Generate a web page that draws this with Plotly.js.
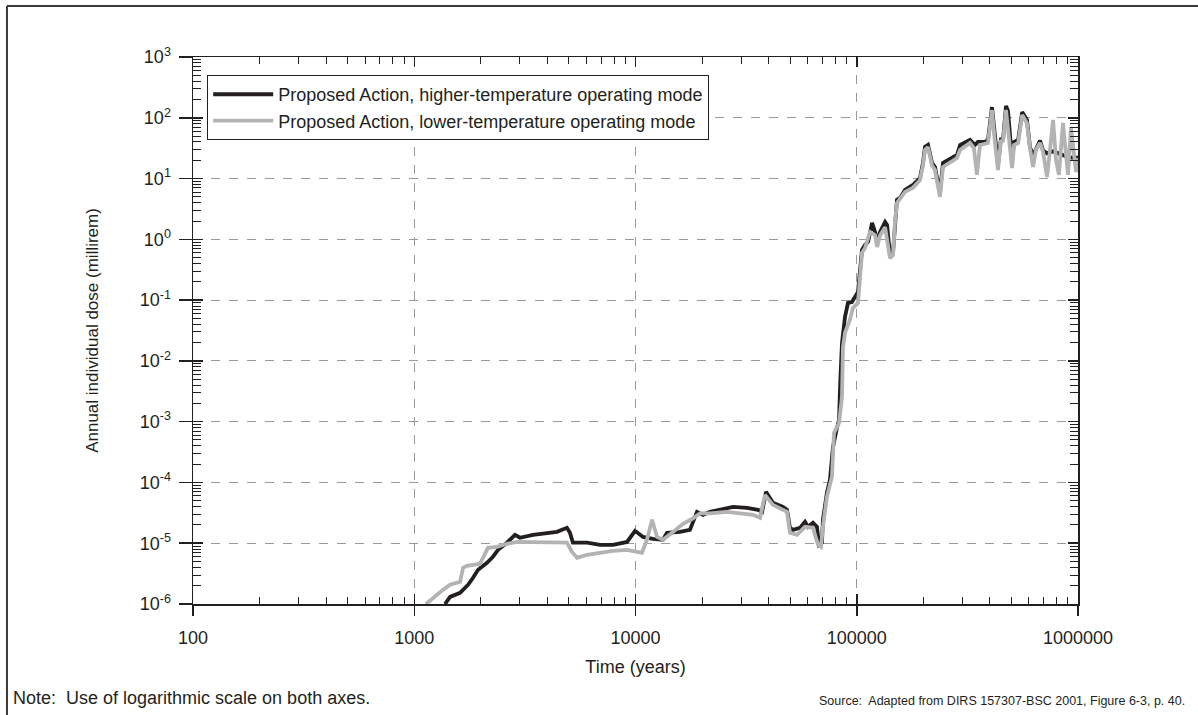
<!DOCTYPE html>
<html>
<head>
<meta charset="utf-8">
<script src="https://cdn.plot.ly/plotly-3.0.1.min.js"></script>
<style>
  html, body { margin: 0; padding: 0; background: #ffffff; }
  #chart { width: 1198px; height: 715px; }
</style>
</head>
<body>
<div id="chart"></div>
<script>
// Annual individual dose vs. time, two repository operating modes
const hiTempYears = [1377, 1452, 1611, 1750, 1844, 1943, 2131, 2268, 2391, 2625, 2853, 3005, 3441, 3981, 4416, 4898, 5057, 5214, 6035, 6915, 7913, 9158, 9950, 10815, 11995, 13310, 13880, 15880, 17620, 18960, 20180, 21710, 24080, 27590, 31920, 35790, 37330, 38880, 41800, 46430, 48400, 49910, 51490, 55380, 58340, 60190, 63420, 66100, 67500, 69620, 70330, 73300, 75660, 78090, 81390, 83150, 84300, 85770, 88500, 91290, 95110, 98130, 101300, 105600, 109000, 112500, 117300, 121000, 123600, 127500, 134300, 137100, 141400, 145900, 148900, 152000, 156900, 165300, 179600, 193100, 199200, 203400, 209900, 218800, 225800, 237700, 245300, 283800, 293000, 325000, 342100, 353000, 379800, 391800, 408500, 421500, 434900, 448700, 458100, 472700, 482700, 503600, 514100, 536300, 559500, 587800, 606500, 626400, 645700, 673600, 695000, 724500, 771300, 829300, 891300, 948700, 1000000];
const hiTempDose = [1.0e-6, 1.31e-6, 1.53e-6, 2.07e-6, 2.70e-6, 3.65e-6, 4.76e-6, 5.97e-6, 7.78e-6, 1.02e-5, 1.37e-5, 1.23e-5, 1.37e-5, 1.48e-5, 1.54e-5, 1.79e-5, 1.48e-5, 1.02e-5, 1.02e-5, 9.4e-6, 9.4e-6, 1.05e-5, 1.60e-5, 1.27e-5, 1.18e-5, 1.14e-5, 1.48e-5, 1.54e-5, 1.66e-5, 3.28e-5, 2.93e-5, 3.28e-5, 3.54e-5, 3.97e-5, 3.82e-5, 3.54e-5, 3.28e-5, 7.0e-5, 4.62e-5, 3.97e-5, 3.54e-5, 1.79e-5, 1.66e-5, 1.79e-5, 2.25e-5, 1.86e-5, 2.17e-5, 1.86e-5, 9.4e-6, 1.02e-5, 2.43e-5, 6.74e-5, 1.10e-4, 3.85e-4, 7.9e-4, 1.07e-3, 4.87e-3, 1.98e-2, 5.3e-2, 9.0e-2, 9.3e-2, 0.113, 0.136, 0.67, 0.81, 0.91, 1.86, 1.32, 0.91, 1.32, 1.93, 1.73, 0.55, 0.62, 2.08, 4.45, 4.8, 6.49, 7.85, 10.2, 18.1, 33.1, 35.7, 18.1, 15.5, 5.79, 18.1, 24.4, 35.7, 43.2, 35.7, 40, 40, 43.2, 150, 43, 17, 46.6, 43, 156, 130, 20, 40, 43, 124, 92, 33, 24, 30, 42, 29, 26, 28, 25, 23, 22, 22];

const loTempYears = [1130, 1216, 1349, 1452, 1611, 1662, 1730, 1982, 2087, 2153, 2364, 2625, 2912, 3441, 4111, 4560, 4898, 5164, 5443, 6035, 6915, 7913, 9158, 10470, 10690, 11270, 11880, 12510, 13310, 14620, 16390, 17990, 19580, 21710, 25920, 29670, 33960, 36540, 38470, 41800, 48400, 49910, 53700, 58340, 63420, 66800, 68900, 70330, 73300, 77270, 78900, 83150, 85770, 86660, 88500, 93100, 96100, 101300, 105600, 109000, 114800, 121000, 123600, 127500, 134300, 141400, 145900, 148900, 152000, 165300, 179600, 193100, 199200, 203400, 209900, 218800, 225800, 237700, 245300, 283800, 293000, 325000, 338500, 349300, 360500, 391800, 408500, 421500, 434900, 448700, 458100, 472700, 487500, 503600, 514100, 536300, 559500, 587800, 606500, 626400, 645700, 673600, 695000, 724500, 747000, 771300, 795500, 820000, 855100, 882000, 901000, 929000, 959000, 979400, 1000000];
const loTempDose = [1.0e-6, 1.26e-6, 1.71e-6, 2.07e-6, 2.32e-6, 3.94e-6, 4.25e-6, 4.58e-6, 6.44e-6, 8.4e-6, 8.7e-6, 9.8e-6, 1.05e-5, 1.05e-5, 1.05e-5, 1.02e-5, 1.02e-5, 7.2e-6, 5.75e-6, 6.44e-6, 6.96e-6, 7.5e-6, 7.78e-6, 7.2e-6, 6.96e-6, 1.14e-5, 2.43e-5, 1.27e-5, 1.14e-5, 1.48e-5, 2.08e-5, 2.5e-5, 3.1e-5, 3.1e-5, 3.28e-5, 3.1e-5, 2.93e-5, 2.62e-5, 6.25e-5, 4.28e-5, 3.28e-5, 1.48e-5, 1.37e-5, 1.86e-5, 1.79e-5, 9.4e-6, 8.7e-6, 1.86e-5, 5.8e-5, 1.24e-4, 6.5e-4, 9.5e-4, 2.56e-3, 1.7e-2, 2.9e-2, 4.7e-2, 7.4e-2, 9.0e-2, 0.60, 0.72, 1.32, 1.17, 0.75, 1.17, 1.58, 0.49, 0.55, 1.93, 3.97, 6.03, 7.1, 9.4, 16.4, 29.5, 33, 16.4, 13.8, 5.0, 15.5, 21.8, 29.5, 38.5, 31.8, 11.5, 35.7, 38.5, 134, 38.5, 13.8, 43, 40, 134, 46, 14.9, 35.7, 38.5, 111, 82, 31.8, 15.5, 29.5, 38.5, 27.4, 10.6, 29.5, 92, 20.2, 11.5, 82, 24.4, 11.5, 70, 20, 12.8, 21.8];

const seriesNames = [
  'Proposed Action, higher-temperature operating mode',
  'Proposed Action, lower-temperature operating mode'
];

// Axis ticks
const xTickVals = [100, 1000, 10000, 100000, 1000000];
const xTickText = ['100', '1000', '10000', '100000', '1000000'];
const yExponents = [-6, -5, -4, -3, -2, -1, 0, 1, 2, 3];
const yTickVals = yExponents.map(e => Math.pow(10, e));
const yTickText = yExponents.map(e => '10<sup>' + e + '</sup>');

// Minor ticks at 2..9 within every decade
function minorTicks(lo, hi) {
  const out = [];
  for (let e = lo; e < hi; e++) {
    for (let m = 2; m <= 9; m++) out.push(m * Math.pow(10, e));
  }
  return out;
}
const xMinor = minorTicks(2, 6);
const yMinor = minorTicks(-6, 3);

const ink = '#231f20';
const font = 'Liberation Sans, Arial, Helvetica, sans-serif';

// The lower-temperature curve sits on the overlay axes (same ranges), which
// also carry the inward tick marks on all four sides of the plot.
const traces = [
  {
    x: hiTempYears, y: hiTempDose, name: seriesNames[0],
    type: 'scatter', mode: 'lines',
    line: { color: '#231f20', width: 3.8 }
  },
  {
    x: loTempYears, y: loTempDose, name: seriesNames[1],
    xaxis: 'x2', yaxis: 'y2',
    type: 'scatter', mode: 'lines',
    line: { color: '#b3b3b3', width: 3.8 }
  }
];

const gridStyle = { showgrid: true, gridcolor: '#9a9a9a', griddash: 'dash', gridwidth: 1 };

const layout = {
  width: 1198, height: 715,
  paper_bgcolor: '#ffffff', plot_bgcolor: '#ffffff',
  margin: { l: 193, r: 120, t: 57, b: 111 },
  font: { family: font, color: ink, size: 18 },
  showlegend: true,
  legend: {
    x: 0.016, y: 0.967, xanchor: 'left', yanchor: 'top',
    bgcolor: '#ffffff', bordercolor: ink, borderwidth: 1,
    font: { family: font, size: 18, color: ink },
    itemwidth: 60, tracegroupgap: 0
  },
  xaxis: Object.assign({
    type: 'log', range: [2, 6],
    tickmode: 'array', tickvals: xTickVals, ticktext: xTickText,
    ticks: 'outside', ticklen: 10, tickwidth: 1.5, tickcolor: ink,
    ticklabelstandoff: 7,
    showline: true, linecolor: ink, linewidth: 1.5, mirror: true,
    zeroline: false,
    tickfont: { family: font, size: 18, color: ink },
    title: { text: 'Time (years)', font: { family: font, size: 18, color: ink }, standoff: 13 }
  }, gridStyle),
  yaxis: Object.assign({
    type: 'log', range: [-6, 3],
    tickmode: 'array', tickvals: yTickVals, ticktext: yTickText,
    ticks: 'outside', ticklen: 13, tickwidth: 1.5, tickcolor: ink,
    ticklabelstandoff: 4,
    showline: true, linecolor: ink, linewidth: 1.5, mirror: true,
    zeroline: false,
    tickfont: { family: font, size: 18, color: ink },
    title: { text: 'Annual individual dose (millirem)', font: { family: font, size: 17, color: ink }, standoff: 36 }
  }, gridStyle),
  xaxis2: {
    type: 'log', range: [2, 6], overlaying: 'x', anchor: 'y2', side: 'bottom',
    tickmode: 'array', tickvals: xTickVals, showticklabels: false,
    ticks: 'inside', ticklen: 10, tickwidth: 1.5, tickcolor: ink,
    mirror: 'ticks', showline: false, showgrid: false, zeroline: false,
    minor: { tickmode: 'array', tickvals: xMinor, ticks: 'inside', ticklen: 7, tickwidth: 1, tickcolor: ink, showgrid: false }
  },
  yaxis2: {
    type: 'log', range: [-6, 3], overlaying: 'y', anchor: 'x2', side: 'left',
    tickmode: 'array', tickvals: yTickVals, showticklabels: false,
    ticks: 'inside', ticklen: 10, tickwidth: 1.5, tickcolor: ink,
    mirror: 'ticks', showline: false, showgrid: false, zeroline: false,
    minor: { tickmode: 'array', tickvals: yMinor, ticks: 'inside', ticklen: 8, tickwidth: 1, tickcolor: ink, showgrid: false }
  },
  shapes: [
    // Page frame: left and top edges
    {
      type: 'line', xref: 'paper', yref: 'paper', layer: 'below',
      x0: -0.2102, x1: -0.2102, y0: -0.30, y1: 1.0932,
      line: { color: '#3a3a3a', width: 2 }
    },
    {
      type: 'line', xref: 'paper', yref: 'paper', layer: 'below',
      x0: -0.2102, x1: 1.30, y0: 1.0932, y1: 1.0932,
      line: { color: '#3a3a3a', width: 2 }
    }
  ],
  annotations: [
    {
      xref: 'paper', yref: 'paper', x: -0.2055, y: -0.171,
      xanchor: 'left', yanchor: 'middle', showarrow: false,
      text: 'Note:  Use of logarithmic scale on both axes.',
      font: { family: font, size: 18, color: ink }
    },
    {
      xref: 'paper', yref: 'paper', x: 1.1232, y: -0.177,
      xanchor: 'right', yanchor: 'middle', showarrow: false,
      text: 'Source:  Adapted from DIRS 157307-BSC 2001, Figure 6-3, p. 40.',
      font: { family: font, size: 12.5, color: ink }
    }
  ]
};

Plotly.newPlot('chart', traces, layout, { staticPlot: true, displayModeBar: false });
</script>
</body>
</html>
